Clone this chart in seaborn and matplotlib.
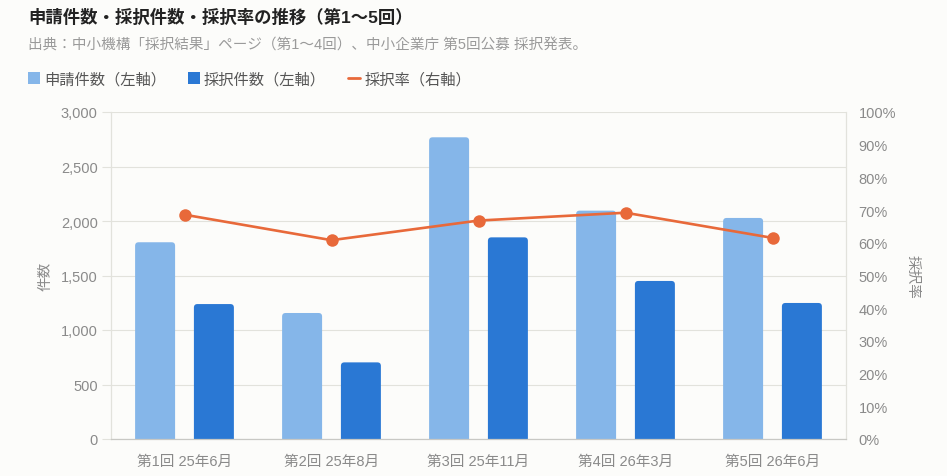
import numpy as np
import pandas as pd
import matplotlib
matplotlib.use("Agg")
import matplotlib.pyplot as plt
import seaborn as sns
from matplotlib.patches import Patch, FancyBboxPatch
from matplotlib.lines import Line2D
from matplotlib.ticker import FuncFormatter

# ── data ───────────────────────────────────────────────────────
rounds = ["第1回 25年6月", "第2回 25年8月", "第3回 25年11月", "第4回 26年3月", "第5回 26年6月"]
applications = [1805, 1156, 2768, 2095, 2028]
adoptions = [1238, 703, 1850, 1450, 1248]
adoption_rate = [68.6, 60.8, 66.8, 69.2, 61.5]

C_APP = "#85B6E9"
C_ADO = "#2A78D4"
C_RATE = "#E8693A"
BG = "#FCFCFA"
GRID = "#E2E2DC"
TXT = "#8A8A8A"
FONTS = ["Liberation Sans", "Noto Sans CJK JP", "DejaVu Sans"]

sns.set_theme(style="white")
plt.rcParams["font.family"] = FONTS

df = pd.DataFrame({
    "round": rounds * 2,
    "kind": ["申請件数"] * len(rounds) + ["採択件数"] * len(rounds),
    "count": applications + adoptions,
})

fig = plt.figure(figsize=(9.47, 4.77), dpi=100, facecolor=BG)
ax = fig.add_axes([111 / 947, 1 - 440 / 477, 735 / 947, 327 / 477])
ax.set_facecolor(BG)

sns.barplot(data=df, x="round", y="count", hue="kind",
            palette={"申請件数": C_APP, "採択件数": C_ADO}, saturation=1,
            width=0.8, gap=0.32, linewidth=0, legend=False, ax=ax)
ax.set_xlim(-0.5, len(rounds) - 0.5)
ax.set_ylim(0, 3000)
ax.set_yticks(range(0, 3001, 500))
ax.yaxis.set_major_formatter(FuncFormatter(lambda v, p: f"{int(v):,}"))
ax.grid(axis="y", color=GRID, linewidth=0.8)
ax.set_axisbelow(True)
ax.set_xlabel("")
ax.set_ylabel("件数", color=TXT, fontsize=10.5, labelpad=6)
ax.tick_params(axis="y", colors=TXT, labelsize=10.5, length=6.5, color=GRID, width=0.8, pad=3)
ax.tick_params(axis="x", colors=TXT, labelsize=10.5, length=0, pad=11)
ax.spines["top"].set_visible(False)
ax.spines["left"].set_color(GRID)
ax.spines["right"].set_color(GRID)
ax.spines["bottom"].set_color("#C8C8C4")
for s in ["left", "right", "bottom"]:
    ax.spines[s].set_linewidth(0.9)

# rounded top corners on the bars
px_x = ax.transData.transform((1, 0))[0] - ax.transData.transform((0, 0))[0]
px_y = ax.transData.transform((0, 1))[1] - ax.transData.transform((0, 0))[1]
radius = 3.5 / px_x
aspect = px_x / px_y
for bar in list(ax.patches):
    x, y = bar.get_x(), bar.get_y()
    w, h = bar.get_width(), bar.get_height()
    ext = radius * aspect * 2
    rounded = FancyBboxPatch((x, y - ext), w, h + ext,
                             boxstyle=f"round,pad=0,rounding_size={radius}",
                             mutation_aspect=aspect, facecolor=bar.get_facecolor(),
                             linewidth=0, zorder=bar.get_zorder())
    bar.remove()
    ax.add_patch(rounded)

# adoption rate on the right axis
ax2 = ax.twinx()
sns.lineplot(x=np.arange(len(rounds)), y=adoption_rate, color=C_RATE,
             linewidth=1.9, marker="o", markersize=9, markeredgewidth=0, ax=ax2)
ax2.set_ylim(0, 100)
ax2.set_yticks(range(0, 101, 10))
ax2.yaxis.set_major_formatter(FuncFormatter(lambda v, p: f"{int(v)}%"))
ax2.tick_params(axis="y", colors=TXT, labelsize=10.5, length=0, pad=9)
ax2.set_ylabel("採択率", color=TXT, fontsize=10.5, rotation=270, labelpad=17)
for s in ["top", "left", "right", "bottom"]:
    ax2.spines[s].set_visible(False)
ax2.grid(False)

# title / subtitle
fig.text(28 / 947, 1 - 17 / 477, "申請件数・採択件数・採択率の推移（第1〜5回）",
         fontsize=12.5, fontweight="bold", color="#222222", va="center")
fig.text(28 / 947, 1 - 46 / 477, "出典：中小機構「採択結果」ページ（第1〜4回）、中小企業庁 第5回公募 採択発表。",
         fontsize=10.5, color="#9A9A9A", va="center")

handles = [
    Patch(facecolor=C_APP, edgecolor="none", label="申請件数（左軸）"),
    Patch(facecolor=C_ADO, edgecolor="none", label="採択件数（左軸）"),
    Line2D([0], [0], color=C_RATE, linewidth=2, label="採択率（右軸）"),
]
fig.legend(handles=handles, loc="center left", bbox_to_anchor=(14 / 947, 1 - 80 / 477),
           ncol=3, frameon=False, fontsize=11, labelcolor="#555555",
           handlelength=0.8, handleheight=0.8, handletextpad=0.25, columnspacing=1.45)

plt.savefig("out.png", dpi=100, facecolor=BG)
